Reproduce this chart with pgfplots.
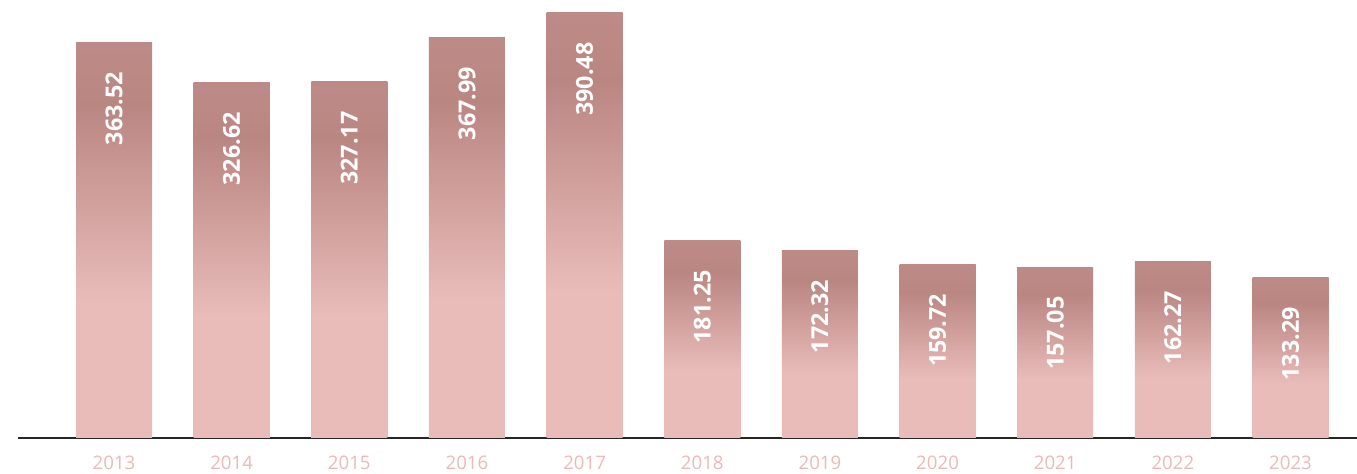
\documentclass[border=0pt]{standalone}
\usepackage{pgfplots}
\pgfplotsset{compat=1.18}
\usepackage{fontspec}
\setmainfont{Open Sans}
\definecolor{barlight}{HTML}{E9BCBA}
\definecolor{bardark}{HTML}{BA8682}
\definecolor{barmid}{HTML}{BD8B87}
\definecolor{ticktext}{HTML}{EBB9B7}
\pgfdeclareverticalshading{barshade}{100bp}{color(0bp)=(barlight); color(42bp)=(barlight); color(67bp)=(bardark); color(75bp)=(barmid); color(100bp)=(barmid)}
\begin{document}
\begin{tikzpicture}
\begin{axis}[
  at={(0,0)}, anchor=south west,
  scale only axis,
  width=1004.25pt, height=328.5pt,
  xmin=-0.816, xmax=10.565,
  ymin=0, ymax=402.4,
  enlargelimits=false,
  axis x line=bottom,
  axis y line=none,
  axis line style={-, draw=black!85, line width=1.1pt},
  xtick={0,1,2,3,4,5,6,7,8,9,10},
  xticklabels={2013,2014,2015,2016,2017,2018,2019,2020,2021,2022,2023},
  major tick length=0pt,
  xticklabel style={font=\fontsize{14pt}{16pt}\selectfont, text=ticktext, yshift=-10pt},
  ybar, bar width=57pt, bar shift=0pt,
  clip=false,
  point meta=explicit,
  /pgf/number format/assume math mode=true,
  nodes near coords={\pgfmathprintnumber[fixed,precision=2,fixed zerofill,assume math mode=true]{\pgfplotspointmeta}},
  every node near coord/.append style={yshift=-22pt, rotate=90, anchor=east, inner sep=0pt, text=white, font=\fontsize{17.5pt}{20pt}\selectfont\bfseries},
  every axis plot/.append style={draw=none, shading=barshade},
]
\addplot coordinates {(0,363.52) [363.52]};
\addplot coordinates {(1,326.62) [326.62]};
\addplot coordinates {(2,327.17) [327.17]};
\addplot coordinates {(3,367.99) [367.99]};
\addplot coordinates {(4,390.48) [390.48]};
\addplot coordinates {(5,181.25) [181.25]};
\addplot coordinates {(6,172.32) [172.32]};
\addplot coordinates {(7,159.72) [159.72]};
\addplot coordinates {(8,157.05) [157.05]};
\addplot coordinates {(9,162.27) [162.27]};
\addplot coordinates {(10,147.3) [133.29]};
\end{axis}
\pgfresetboundingbox
\useasboundingbox (-13.5pt,-27pt) rectangle (1004.25pt,328.5pt);
\end{tikzpicture}
\end{document}
